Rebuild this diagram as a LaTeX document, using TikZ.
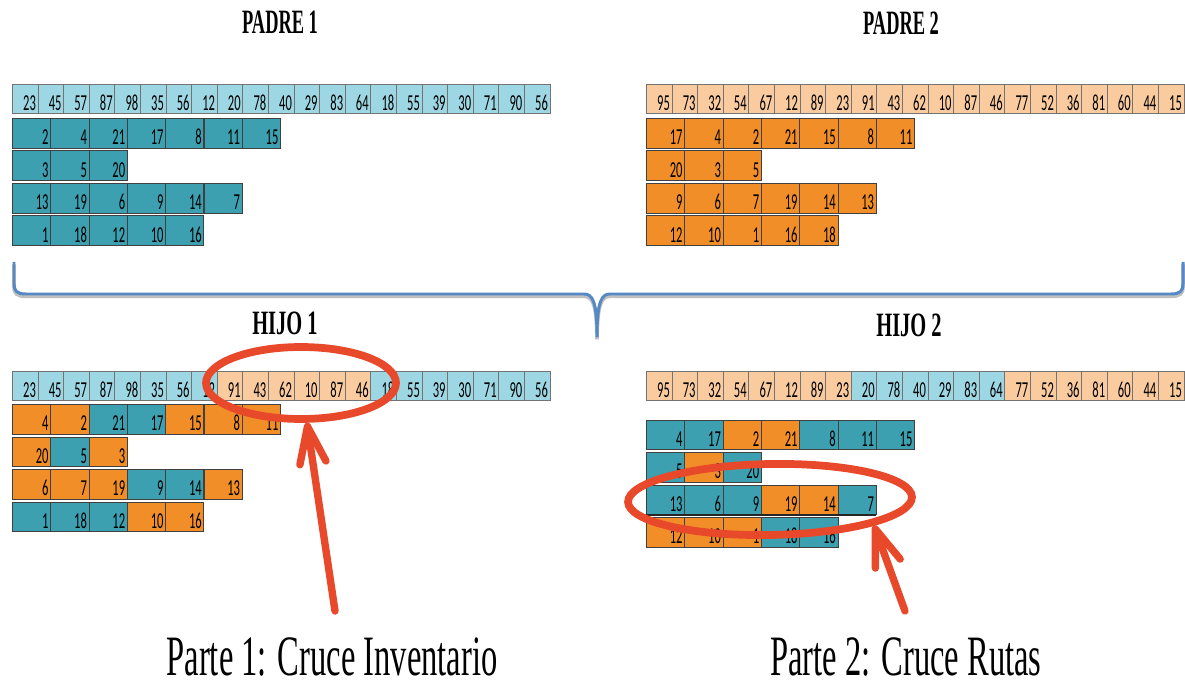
\documentclass[tikz,border=0pt]{standalone}
\usepackage{fontspec}
\setmainfont{Liberation Serif}
\newfontfamily\cellfont{Carlito}
\usetikzlibrary{arrows.meta,shapes.geometric}

\definecolor{lblue}{RGB}{158,215,228}
\definecolor{dteal}{RGB}{61,160,177}
\definecolor{lorange}{RGB}{251,203,160}
\definecolor{dorange}{RGB}{242,142,40}
\definecolor{bracecol}{RGB}{84,137,196}
\definecolor{redpen}{RGB}{233,73,43}

% narrow digits and titles
\newcommand{\cnum}[1]{\scalebox{0.55}[1]{#1}}
\newcommand{\squash}[2][0.57]{\scalebox{#1}[1]{#2}}

\begin{document}
\begin{tikzpicture}[x=0.02cm,y=-0.02cm,
 gene/.style={draw=black!55,line width=0.35pt,anchor=north west,inner xsep=1.1pt,inner ysep=0pt,
   minimum width=0.512cm,minimum height=0.58cm,text width=12.3pt,align=right,
   text height=14.9pt,text depth=1.6pt,font=\cellfont\fontsize{13}{13}\selectfont},
 route/.style={gene,draw=black!75,minimum width=0.766cm,minimum height=0.6cm,
   text width=19.5pt,text height=15.1pt,text depth=1.9pt},
 title/.style={anchor=base,font=\bfseries\fontsize{19.4}{20}\selectfont},
 caption/.style={anchor=base,inner sep=0pt,font=\fontsize{32.5}{33}\selectfont},
 redpen/.style={draw=redpen,line width=4.4pt},
 callout/.style={redpen,line width=4.2pt,line cap=round,-{Straight Barb[length=21pt,width=15pt,round]}}]
\path[fill=white] (0,0) rectangle (1185,685);

% titles
\node[title] (padre1) at (280,34) {\squash[0.54]{PADRE 1}};
\node[title] (padre2) at (901,35) {\squash[0.54]{PADRE 2}};
\node[title] (hijo1) at (285,335) {\squash[0.6]{HIJO 1}};
\node[title] (hijo2) at (909,337) {\squash[0.6]{HIJO 2}};

% parent 1
\foreach \v [count=\i from 0] in {23,45,57,87,98,35,56,12,20,78,40,29,83,64,18,55,39,30,71,90,56}
  \node[gene,fill=lblue] (p1g\i) at ({12+25.6*\i},84) {\cnum{\v}};
\foreach \vals [count=\rw] in {{2,4,21,17,8,11,15},{3,5,20},{13,19,6,9,14,7},{1,18,12,10,16}}
  \foreach \v [count=\i from 0] in \vals
    \node[route,fill=dteal] (p1r\rw-\i) at ({12+38.3*\i},{118+32.5*(\rw-1)}) {\cnum{\v}};

% parent 2
\foreach \v [count=\i from 0] in {95,73,32,54,67,12,89,23,91,43,62,10,87,46,77,52,36,81,60,44,15}
  \node[gene,fill=lorange] (p2g\i) at ({646+25.6*\i},84) {\cnum{\v}};
\foreach \vals [count=\rw] in {{17,4,2,21,15,8,11},{20,3,5},{9,6,7,19,14,13},{12,10,1,16,18}}
  \foreach \v [count=\i from 0] in \vals
    \node[route,fill=dorange] (p2r\rw-\i) at ({646+38.3*\i},{118+32.5*(\rw-1)}) {\cnum{\v}};

% brace between parents and children
\draw[bracecol,line width=1.7pt,preaction={draw=black!25,line width=2.2pt,transform canvas={yshift=-1.3pt}}]
  (14,262) -- (14,284) .. controls (14,291) and (17,294) .. (26,294) -- (584,294)
  .. controls (592,294) and (597,300) .. (597,337) .. controls (597,300) and (602,294) .. (610,294)
  -- (1171,294) .. controls (1180,294) and (1183,291) .. (1183,284) -- (1183,262);

% child 1
\foreach \v/\c [count=\i from 0] in {23/lblue,45/lblue,57/lblue,87/lblue,98/lblue,35/lblue,56/lblue,12/lblue,
    91/lorange,43/lorange,62/lorange,10/lorange,87/lorange,46/lorange,
    18/lblue,55/lblue,39/lblue,30/lblue,71/lblue,90/lblue,56/lblue}
  \node[gene,fill=\c] (h1g\i) at ({12+25.6*\i},371) {\cnum{\v}};
\foreach \vals [count=\rw] in {{4/dorange,2/dorange,21/dteal,17/dteal,15/dorange,8/dorange,11/dorange},
    {20/dorange,5/dteal,3/dorange},
    {6/dorange,7/dorange,19/dorange,9/dteal,14/dteal,13/dorange},
    {1/dteal,18/dteal,12/dteal,10/dorange,16/dorange}}
  \foreach \v/\c [count=\i from 0] in \vals
    \node[route,fill=\c] (h1r\rw-\i) at ({12+38.3*\i},{404+32.5*(\rw-1)}) {\cnum{\v}};

% child 2
\foreach \v/\c [count=\i from 0] in {95/lorange,73/lorange,32/lorange,54/lorange,67/lorange,12/lorange,89/lorange,23/lorange,
    20/lblue,78/lblue,40/lblue,29/lblue,83/lblue,64/lblue,
    77/lorange,52/lorange,36/lorange,81/lorange,60/lorange,44/lorange,15/lorange}
  \node[gene,fill=\c] (h2g\i) at ({646+25.6*\i},371) {\cnum{\v}};
\foreach \vals [count=\rw] in {{4/dteal,17/dteal,2/dorange,21/dorange,8/dteal,11/dteal,15/dteal},
    {5/dteal,3/dorange,20/dteal},
    {13/dteal,6/dteal,9/dteal,19/dorange,14/dorange,7/dteal},
    {12/dorange,10/dorange,1/dorange,18/dteal,16/dteal}}
  \foreach \v/\c [count=\i from 0] in \vals
    \node[route,fill=\c] (h2r\rw-\i) at ({646+38.3*\i},{419.5+32.5*(\rw-1)}) {\cnum{\v}};
\draw[line width=0.9pt,black!85] (h2r3-0.south west) -- (h2r3-5.south east);

% crossover marks
\node[redpen,ellipse,minimum width=3.8cm,minimum height=1.44cm,inner sep=0pt] (ell1) at (301,383) {};
\node[redpen,ellipse,minimum width=5.68cm,minimum height=1.42cm,inner sep=0pt,rotate=1] (ell2) at (770,499.5) {};

\node[caption] (parte1) at (332,675) {\squash{Parte 1: Cruce Inventario}};
\node[caption] (parte2) at (906,675) {\squash{Parte 2: Cruce Rutas}};

\coordinate (tail1) at (335,611);
\coordinate (tail2) at (905,611);
\draw[callout] (tail1) -- (ell1);
\draw[callout] (tail2) -- (ell2.-15);
\end{tikzpicture}
\end{document}
